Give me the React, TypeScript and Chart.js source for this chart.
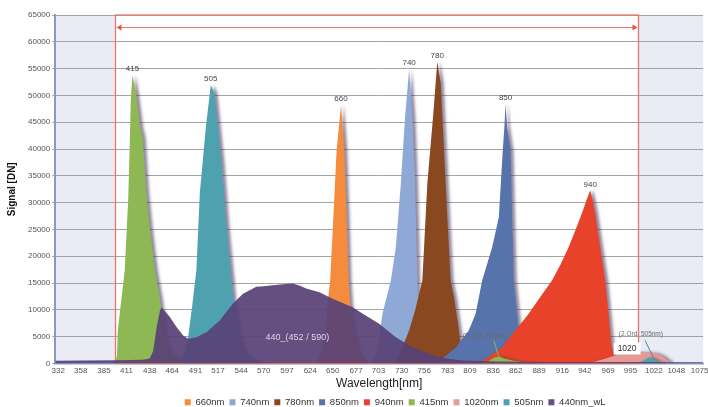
import React, { useEffect, useRef } from "react";
import { Chart, registerables } from "chart.js";

const FONT = "'Liberation Sans', Arial, sans-serif";

const X_MIN = 328.5;
const X_MAX = 1079;
const X_TICKS = [332, 358, 385, 411, 438, 464, 491, 517, 544, 570, 597, 624, 650, 677, 703, 730, 756, 783, 809, 836, 862, 889, 916, 942, 969, 995, 1022, 1048, 1075];
const Y_MAX = 65000;
const Y_STEP = 5000;

const RANGE_START = 398;
const RANGE_END = 1004;
const ARROW_SIGNAL = 62800;
const LEGEND_SHIFT = 16;

const SERIES_NAMES = ["660nm", "740nm", "780nm", "850nm", "940nm", "415nm", "1020nm", "505nm", "440nm_wL"];
const SERIES_COLORS = ["#f58b3d", "#8fa9d6", "#8a4820", "#5673ab", "#e8432a", "#8db853", "#e39b95", "#4ea2b0", "rgba(88,66,118,0.93)"];
const PEAK_LABELS = ["660", "740", "780", "850", "940", "415", "", "505", ""];

const wl660 = [632, 637, 641.5, 644.4, 647, 650.7, 654.5, 659.6, 663.4, 666.1, 668.4, 670.3, 673.8, 678.4, 685.3, 695];
const sig660 = [200, 2400, 6200, 11800, 15500, 27300, 39800, 48200, 39800, 27300, 15500, 10800, 6200, 2400, 400, 0];

const wl740 = [690, 694.6, 701.5, 707.6, 717.3, 723.1, 728.9, 733.8, 738.5, 742.3, 745.4, 748, 750, 752.3, 757, 765];
const sig740 = [0, 200, 2400, 9300, 15500, 21700, 33600, 46000, 54900, 46000, 33600, 15500, 8000, 3400, 600, 0];

const wl780 = [715, 722.3, 730.7, 738.5, 745.4, 753.8, 759.6, 766.2, 771.1, 775.1, 778.9, 782.7, 786.6, 790.4, 796.2, 798.5, 803.1, 810, 820];
const sig780 = [0, 200, 3000, 6200, 9900, 15500, 33600, 46000, 56300, 52300, 39800, 27300, 15500, 12400, 6200, 3000, 900, 200, 0];

const wl850 = [765, 773, 779, 792.4, 807.7, 815.5, 823.1, 834.7, 842.4, 847, 849, 850.2, 852, 856, 857.8, 859.8, 861.7, 865.6, 869.4, 874.8, 883, 895];
const sig850 = [0, 200, 1200, 3000, 6200, 9300, 15500, 21700, 27300, 39800, 44500, 48500, 44000, 39800, 27300, 15500, 12400, 6200, 3000, 1300, 400, 0];

const wl940 = [810, 819.3, 830.8, 846.2, 861.7, 877, 890, 904, 914, 923.2, 931, 938.6, 944, 948.3, 951, 954.1, 959.9, 965.7, 969.5, 973.3, 977.2, 981, 990];
const sig940 = [0, 200, 1200, 3000, 6200, 9300, 12300, 15500, 18500, 21700, 24800, 28000, 30500, 32300, 30500, 28000, 21700, 15500, 9300, 3000, 1200, 400, 0];

const wl415 = [395, 398, 400, 401, 405, 409, 413, 415, 416, 418, 422, 427, 430, 434, 438, 444, 450, 453, 457, 461, 471, 484, 507, 560, 822, 831, 837, 843, 850, 860, 872, 885];
const sig415 = [0, 560, 1300, 6200, 11800, 17400, 30500, 42200, 49100, 53800, 50400, 44100, 42000, 31800, 25400, 17400, 11800, 8000, 4300, 2000, 900, 400, 200, 0, 0, 500, 1100, 1300, 900, 500, 200, 0];

const wl1020 = [945, 955, 965, 975, 985, 995, 1005, 1015, 1025, 1032, 1038, 1045];
const sig1020 = [0, 400, 900, 1400, 1800, 2000, 2100, 2100, 1900, 1400, 600, 0];

const wl505 = [472, 479, 482.5, 487.5, 492, 496, 503, 508.7, 513, 517, 521, 524, 527, 533, 535, 540, 544.5, 551, 563, 575, 1002, 1010, 1016, 1021, 1028, 1038];
const sig505 = [200, 2000, 4900, 11200, 17400, 31800, 44100, 51900, 50400, 44100, 37900, 31800, 25400, 15500, 11800, 7100, 3700, 1500, 400, 0, 0, 500, 1100, 900, 300, 0];

const wl440 = [328.5, 360, 400, 430, 438, 442, 446, 449.8, 451.7, 455, 461.3, 469, 476.7, 482.5, 492, 503.7, 519, 534.4, 546, 561.4, 570, 580.6, 592, 603.7, 612, 619.2, 634.5, 649.9, 660, 673, 684.8, 703.8, 723.1, 742.3, 761.5, 780, 800, 842, 900, 1000, 1079];
const sig440 = [500, 550, 600, 700, 930, 2400, 6800, 9900, 10500, 9900, 8650, 6800, 5200, 4600, 4900, 5850, 8000, 11200, 13000, 14300, 14400, 14600, 14800, 14900, 14500, 14000, 13300, 12100, 11400, 10500, 9280, 7400, 4900, 3050, 1800, 1000, 560, 370, 300, 300, 250];

const SERIES_WL = [wl660, wl740, wl780, wl850, wl940, wl415, wl1020, wl505, wl440];
const SERIES_SIG = [sig660, sig740, sig780, sig850, sig940, sig415, sig1020, sig505, sig440];

const TEXT_NOTES = [
  { text: "440_(452 / 590)", x: 609, y: 4860, color: "#ddd7ea", size: 9 },
  { text: "(2.Ord. 415nm)", x: 826, y: 5040, color: "#6a6a6a", size: 6.5 },
  { text: "(2.Ord. 505nm)", x: 1007, y: 5420, color: "#6a6a6a", size: 6.5 },
];
const LEADERS = [
  { x1: 836.6, y1: 4300, x2: 842.4, y2: 1100, color: "#8db853" },
  { x1: 1011.8, y1: 4300, x2: 1021.4, y2: 1100, color: "#3f8f9c" },
];
const BOX_NOTE = { text: "1020", x: 991, y: 2800 };

const shadowPlugin = {
  id: "dropShadow",
  beforeDatasetDraw(chart: any, args: any) {
    const ctx = chart.ctx;
    ctx.save();
    const ds = chart.data.datasets[args.index];
    if (!ds.noShadow) {
      ctx.shadowColor = "rgba(60,40,80,0.55)";
      ctx.shadowOffsetX = 3;
      ctx.shadowOffsetY = 0;
      ctx.shadowBlur = 3;
    }
  },
  afterDatasetDraw(chart: any) {
    chart.ctx.restore();
  },
};
Chart.register(shadowPlugin);
Chart.register(...registerables);

const annotPlugin = {
  id: "annot",
  afterLayout(chart: any) {
    if (chart.legend) {
      chart.legend.left += LEGEND_SHIFT;
      chart.legend.right += LEGEND_SHIFT;
    }
  },
  beforeDraw(chart: any) {
    const { ctx, chartArea: a, scales } = chart;
    const x = scales.x;
    ctx.save();
    ctx.fillStyle = "#ffffff";
    ctx.fillRect(a.left, a.top, a.width, a.height);
    ctx.fillStyle = "#ebebf6";
    const x1 = x.getPixelForValue(RANGE_START);
    const x2 = x.getPixelForValue(RANGE_END);
    ctx.fillRect(a.left, a.top, x1 - a.left, a.height);
    ctx.fillRect(x2, a.top, a.right - x2, a.height);
    ctx.restore();
  },
  beforeDatasetsDraw(chart: any) {
    const { ctx, chartArea: a, scales } = chart;
    const x = scales.x, y = scales.y;
    const x1 = Math.round(x.getPixelForValue(RANGE_START)) + 0.5;
    const x2 = Math.round(x.getPixelForValue(RANGE_END)) + 0.5;
    const yb = y.getPixelForValue(0);
    ctx.save();
    ctx.strokeStyle = "#e8766a";
    ctx.lineWidth = 1.3;
    ctx.strokeRect(x1, a.top, x2 - x1, yb - a.top);
    const ay = Math.round(y.getPixelForValue(ARROW_SIGNAL)) + 0.5;
    ctx.beginPath();
    ctx.moveTo(x1 + 2, ay);
    ctx.lineTo(x2 - 2, ay);
    ctx.lineWidth = 1;
    ctx.stroke();
    ctx.fillStyle = "#e8533f";
    ctx.beginPath();
    ctx.moveTo(x1 + 1, ay);
    ctx.lineTo(x1 + 6, ay - 3);
    ctx.lineTo(x1 + 6, ay + 3);
    ctx.closePath();
    ctx.fill();
    ctx.beginPath();
    ctx.moveTo(x2 - 1, ay);
    ctx.lineTo(x2 - 6, ay - 3);
    ctx.lineTo(x2 - 6, ay + 3);
    ctx.closePath();
    ctx.fill();
    ctx.restore();
  },
  afterDatasetsDraw(chart: any) {
    const { ctx, scales } = chart;
    const x = scales.x, y = scales.y;
    ctx.save();
    ctx.textAlign = "center";
    ctx.textBaseline = "bottom";
    ctx.font = `8px ${FONT}`;
    ctx.fillStyle = "#444";
    PEAK_LABELS.forEach((lab, i) => {
      if (!lab) return;
      const sig = SERIES_SIG[i];
      let k = 0;
      sig.forEach((v, j) => { if (v > sig[k]) k = j; });
      const px = x.getPixelForValue(SERIES_WL[i][k]);
      const py = y.getPixelForValue(sig[k]);
      ctx.fillText(lab, px, py - 2);
    });
    LEADERS.forEach((l) => {
      ctx.strokeStyle = l.color;
      ctx.lineWidth = 1;
      ctx.beginPath();
      ctx.moveTo(x.getPixelForValue(l.x1), y.getPixelForValue(l.y1));
      ctx.lineTo(x.getPixelForValue(l.x2), y.getPixelForValue(l.y2));
      ctx.stroke();
    });
    ctx.textBaseline = "middle";
    TEXT_NOTES.forEach((n) => {
      ctx.font = `${n.size}px ${FONT}`;
      ctx.fillStyle = n.color;
      ctx.fillText(n.text, x.getPixelForValue(n.x), y.getPixelForValue(n.y));
    });
    ctx.font = `8.5px ${FONT}`;
    const bx = x.getPixelForValue(BOX_NOTE.x);
    const by = y.getPixelForValue(BOX_NOTE.y);
    const w = ctx.measureText(BOX_NOTE.text).width + 8;
    ctx.fillStyle = "#ffffff";
    ctx.fillRect(bx - w / 2, by - 6, w, 12);
    ctx.fillStyle = "#333";
    ctx.fillText(BOX_NOTE.text, bx, by);
    ctx.restore();
  },
};

export default function App() {
  const ref = useRef<HTMLCanvasElement | null>(null);
  useEffect(() => {
    if (!ref.current) return;
    const datasets = SERIES_NAMES.map((name, i) => ({
      label: name,
      data: SERIES_WL[i].map((w, j) => ({ x: w, y: SERIES_SIG[i][j] })),
      backgroundColor: SERIES_COLORS[i],
      borderColor: SERIES_COLORS[i],
      borderWidth: 0,
      pointRadius: 0,
      fill: "origin",
      tension: 0,
      order: SERIES_NAMES.length - 1 - i,
      noShadow: i === SERIES_NAMES.length - 1,
    }));
    const chart = new Chart(ref.current, {
      type: "line",
      data: { datasets } as any,
      options: {
        animation: false,
        responsive: false,
        devicePixelRatio: 1,
        layout: { padding: { top: 15, left: 6, right: 0, bottom: 0 } },
        plugins: {
          legend: {
            position: "bottom",
            fullSize: false,
            labels: {
              boxWidth: 6,
              boxHeight: 6,
              padding: 5,
              color: "#333",
              font: { family: FONT, size: 9.5 },
              sort: (a: any, b: any) => a.datasetIndex - b.datasetIndex,
            },
          },
          tooltip: { enabled: false },
        },
        scales: {
          x: {
            type: "linear",
            min: X_MIN,
            max: X_MAX,
            afterBuildTicks: (axis: any) => {
              axis.ticks = X_TICKS.map((v) => ({ value: v }));
            },
            grid: { display: false, drawTicks: false, tickLength: 0 },
            border: { color: "#8a9ac0", width: 1.5 },
            ticks: {
              autoSkip: false,
              maxRotation: 0,
              padding: 2.5,
              color: "#555",
              font: { family: FONT, size: 8 },
              callback: (v: any) => String(v),
            },
            title: {
              display: true,
              text: "Wavelength[nm]",
              color: "#222",
              font: { family: FONT, size: 12 },
              padding: { top: -2, bottom: 2 },
            },
          },
          y: {
            min: 0,
            max: Y_MAX,
            ticks: {
              stepSize: Y_STEP,
              padding: 2,
              color: "#555",
              font: { family: FONT, size: 8 },
              callback: (v: any) => String(v),
            },
            grid: { color: "#a4a4a4", lineWidth: 1, tickLength: 3 },
            border: { color: "#8a9ac0", width: 2 },
            title: {
              display: true,
              text: "Signal [DN]",
              color: "#111",
              font: { family: FONT, size: 10, weight: "bold" },
              padding: { top: 0, bottom: 8 },
            },
          },
        },
      } as any,
      plugins: [annotPlugin],
    });
    return () => chart.destroy();
  }, []);
  return (
    <div style={{ position: "absolute", left: 0, top: 0, width: 708, height: 407, overflow: "hidden", background: "#fff" }}>
      <canvas ref={ref} width={711} height={417} style={{ display: "block", width: 711, height: 417 }} />
    </div>
  );
}
